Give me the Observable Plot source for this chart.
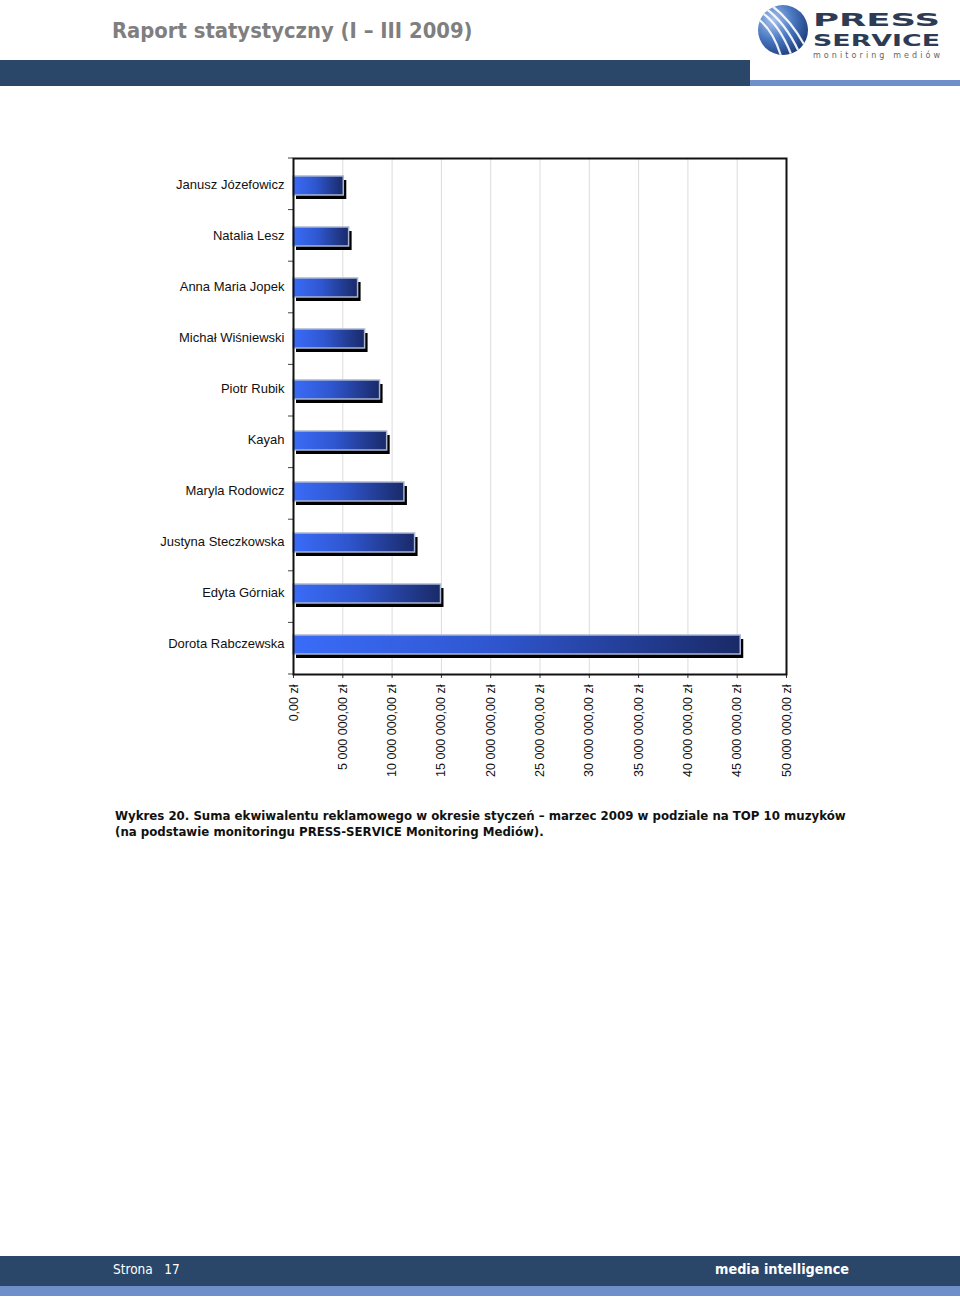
<!DOCTYPE html>
<html><head><meta charset="utf-8">
<script src="https://cdn.jsdelivr.net/npm/d3@7"></script>
<script src="https://cdn.jsdelivr.net/npm/@observablehq/plot@0.6"></script>
<style>
html,body{margin:0;padding:0}
body{width:960px;height:1302px;position:relative;background:#fff;overflow:hidden;font-family:"DejaVu Sans",sans-serif}
.abs{position:absolute}
#title{left:112px;top:18px;font-family:"DejaVu Sans Condensed","DejaVu Sans",sans-serif;font-weight:bold;font-size:21.8px;color:#7f7f7f;white-space:nowrap}
#hbar{left:0;top:60px;width:750px;height:26px;background:#2a4669}
#hline{left:750px;top:80px;width:210px;height:6px;background:#6e8fc9}
#logo{left:755px;top:2px}
#chart{left:0;top:150px}
#caption{left:115px;top:808px;font-family:"DejaVu Sans Condensed","DejaVu Sans",sans-serif;font-weight:bold;font-size:13.1px;line-height:16px;color:#111;white-space:nowrap}
#fbar{left:0;top:1256px;width:960px;height:30px;background:#2a4669}
#fline{left:0;top:1286px;width:960px;height:10px;background:#6e8fc9}
#strona{left:113px;top:1261px;font-family:"DejaVu Sans Condensed","DejaVu Sans",sans-serif;font-size:13.5px;color:#fff;white-space:pre}
#mi{left:715px;top:1261px;font-family:"DejaVu Sans Condensed","DejaVu Sans",sans-serif;font-weight:bold;font-size:14.3px;color:#fff;white-space:nowrap}
</style></head><body>
<div id="title" class="abs">Raport statystyczny (I – III 2009)</div>
<div id="hbar" class="abs"></div>
<div id="hline" class="abs"></div>
<svg id="logo" class="abs" width="200" height="60">
  <defs>
    <radialGradient id="lg" cx="0.3" cy="0.3" r="0.8">
      <stop offset="0" stop-color="#a9c3ea"/>
      <stop offset="0.5" stop-color="#4a78c2"/>
      <stop offset="1" stop-color="#1b3a78"/>
    </radialGradient>
    <clipPath id="lc"><circle cx="28" cy="28" r="25"/></clipPath>
  </defs>
  <circle cx="28" cy="28" r="25" fill="url(#lg)"/>
  <g clip-path="url(#lc)" stroke="#fff" stroke-width="2.2" fill="none" opacity="0.9">
    <path d="M6 10 Q24 22 36 52"/>
    <path d="M10 6 Q30 20 44 50"/>
    <path d="M16 3 Q36 18 50 44"/>
    <path d="M3 17 Q18 28 26 54"/>
  </g>
  <text x="58" y="24" font-family="DejaVu Sans" font-weight="bold" font-size="18" fill="#2d3b55" textLength="127" lengthAdjust="spacingAndGlyphs">PRESS</text>
  <text x="58" y="44" font-family="DejaVu Sans" font-weight="bold" font-size="16.5" fill="#2d3b55" textLength="127" lengthAdjust="spacingAndGlyphs">SERVICE</text>
  <text x="58" y="56" font-family="DejaVu Sans" font-size="8" fill="#666" textLength="127" lengthAdjust="spacing">monitoring mediów</text>
</svg>
<div id="chart" class="abs"></div>
<div id="caption" class="abs">Wykres 20. Suma ekwiwalentu reklamowego w okresie styczeń – marzec 2009 w podziale na TOP 10 muzyków<br>(na podstawie monitoringu PRESS-SERVICE Monitoring Mediów).</div>
<div id="fbar" class="abs"></div>
<div id="fline" class="abs"></div>
<div id="strona" class="abs">Strona   17</div>
<div id="mi" class="abs">media intelligence</div>
<script>
const musicians = ["Janusz Józefowicz","Natalia Lesz","Anna Maria Jopek","Michał Wiśniewski","Piotr Rubik","Kayah","Maryla Rodowicz","Justyna Steczkowska","Edyta Górniak","Dorota Rabczewska"];
const values = [5100000, 5640000, 6550000, 7260000, 8780000, 9500000, 11250000, 12330000, 14960000, 45360000];
const xTicks = [0, 5000000, 10000000, 15000000, 20000000, 25000000, 30000000, 35000000, 40000000, 45000000, 50000000];

const data = musicians.map((m, i) => ({name: m, value: values[i]}));
const pl = d3.formatLocale({decimal: ",", thousands: " ", grouping: [3], currency: ["", " zł"]});
const fmt = pl.format("$,.2f");

function gradientDefs() {
  const defs = d3.create("svg:defs");
  const g = defs.append("linearGradient").attr("id", "barGrad").attr("x1", 0).attr("x2", 1).attr("y1", 0).attr("y2", 0);
  g.append("stop").attr("offset", "0").attr("stop-color", "#3a6cf8");
  g.append("stop").attr("offset", "0.45").attr("stop-color", "#2f56cf");
  g.append("stop").attr("offset", "1").attr("stop-color", "#1a2a68");
  return defs.node();
}
function bandTicks(index, scales, values, dims) {
  const n = musicians.length;
  const step = (dims.height - dims.marginTop - dims.marginBottom) / n;
  const g = d3.create("svg:g").attr("stroke", "#444");
  d3.range(n + 1).forEach(i => {
    const y = dims.marginTop + i * step;
    g.append("line").attr("x1", dims.marginLeft - 5).attr("x2", dims.marginLeft).attr("y1", y).attr("y2", y);
  });
  return g.node();
}

const chart = Plot.plot({
  width: 960,
  height: 634,
  marginLeft: 293,
  marginRight: 174,
  marginTop: 8,
  marginBottom: 110,
  style: {fontFamily: "'Liberation Sans', Arial, sans-serif", fontSize: "13px", color: "#111", background: "transparent"},
  x: {domain: [0, 50000000]},
  y: {domain: musicians, padding: 0},
  marks: [
    gradientDefs,
    Plot.gridX(xTicks, {stroke: "#dcdcdc", strokeOpacity: 1}),
    Plot.axisX(xTicks, {tickFormat: fmt, tickRotate: -90, tickSize: 4, tickPadding: 6, label: null, fontSize: 12.5, stroke: "#333"}),
    Plot.axisY({tickSize: 0, tickPadding: 9, label: null, fontSize: 13, dy: -2}),
    bandTicks,
    Plot.barX(data, {x: "value", y: "name", fill: "#000", dx: 3, dy: 4, insetTop: 15, insetBottom: 17}),
    Plot.barX(data, {x: "value", y: "name", fill: "url(#barGrad)", stroke: "#aab6d2", strokeWidth: 1.5, insetTop: 15, insetBottom: 17}),
    Plot.frame({stroke: "#111", strokeWidth: 2})
  ]
});
document.getElementById("chart").appendChild(chart);
</script>
</body></html>
